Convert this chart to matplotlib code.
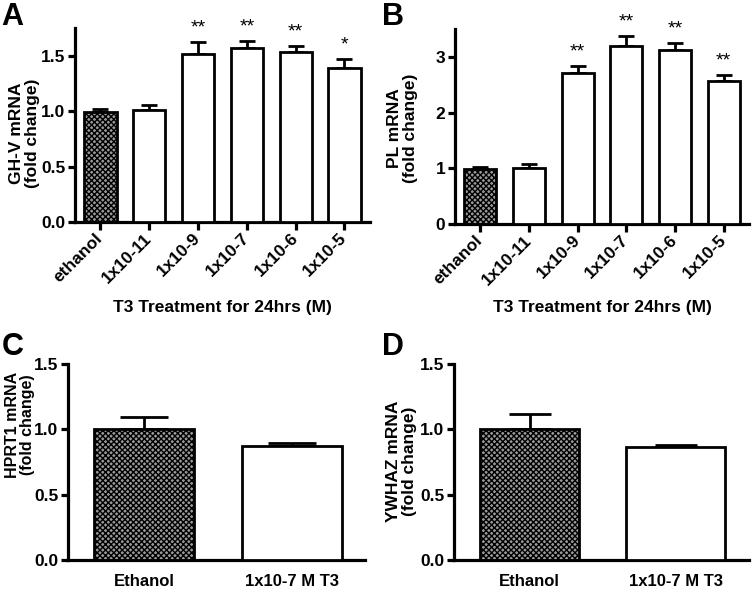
import matplotlib
matplotlib.use('Agg')
import matplotlib.pyplot as plt

plt.rcParams['font.family'] = ['Liberation Sans', 'DejaVu Sans']
plt.rcParams['font.weight'] = 'bold'
plt.rcParams['axes.labelweight'] = 'bold'
plt.rcParams['hatch.linewidth'] = 1.0

# panel A / B data
doses = ['ethanol', '1x10-11', '1x10-9', '1x10-7', '1x10-6', '1x10-5']
ghv_mean = [0.99, 1.01, 1.52, 1.575, 1.54, 1.39]
ghv_err = [0.03, 0.05, 0.11, 0.06, 0.05, 0.08]
ghv_stars = ['', '', '**', '**', '**', '*']

pl_mean = [0.99, 1.0, 2.71, 3.19, 3.12, 2.57]
pl_err = [0.03, 0.07, 0.13, 0.18, 0.13, 0.10]
pl_stars = ['', '', '**', '**', '**', '**']

# panel C / D data
groups = ['Ethanol', '1x10-7 M T3']
hprt_mean = [1.0, 0.872]
hprt_err = [0.095, 0.023]
ywhaz_mean = [1.0, 0.865]
ywhaz_err = [0.115, 0.018]

fig = plt.figure(figsize=(7.54, 5.89), dpi=100)


def style(ax):
    for s in ['top', 'right']:
        ax.spines[s].set_visible(False)
    for s in ['left', 'bottom']:
        ax.spines[s].set_linewidth(2.3)
    ax.tick_params(width=2.3, length=5, labelsize=12.5)
    ax.tick_params(axis='y', pad=2)


def bars(ax, labels, mean, err, width, cap):
    x = list(range(len(labels)))
    colors = ['white'] * len(labels)
    b = ax.bar(x, mean, width, color=colors, edgecolor='black', linewidth=2, zorder=3)
    b[0].set_hatch('xxxxxx')
    b[0].set_facecolor('#9a9a9a')
    ax.errorbar(x, mean, yerr=[[0] * len(err), err], fmt='none', ecolor='black',
                elinewidth=2, capsize=cap, capthick=2, zorder=2)
    return x


def stars(ax, x, mean, err, marks):
    for xi, m, e, s in zip(x, mean, err, marks):
        if s:
            ax.annotate(s, (xi, m + e), xytext=(0, 4), textcoords='offset points',
                        ha='center', va='bottom', fontsize=14, fontweight='normal')


def dose_ticks(ax, x):
    ax.set_xticks(x)
    ax.set_xticklabels(doses, rotation=45, ha='right', va='center', rotation_mode='anchor')
    ax.tick_params(axis='x', pad=4, length=6)


# A
axA = fig.add_axes([0.0995, 0.623, 0.391, 0.329])
x = bars(axA, doses, ghv_mean, ghv_err, 0.66, 5.5)
stars(axA, x, ghv_mean, ghv_err, ghv_stars)
axA.set_xlim(-0.52, 5.52)
axA.set_ylim(0, 1.75)
axA.set_yticks([0, 0.5, 1.0, 1.5])
axA.set_yticklabels(['0.0', '0.5', '1.0', '1.5'])
style(axA)
dose_ticks(axA, x)
axA.set_ylabel('GH-V mRNA\n(fold change)', fontsize=12.5, linespacing=1.05)
axA.yaxis.set_label_coords(-0.119, 0.46)
axA.set_xlabel('T3 Treatment for 24hrs (M)', fontsize=12.5)
axA.xaxis.set_label_coords(0.5, -0.40)

# B
axB = fig.add_axes([0.6034, 0.6197, 0.390, 0.331])
x = bars(axB, doses, pl_mean, pl_err, 0.66, 5.5)
stars(axB, x, pl_mean, pl_err, pl_stars)
axB.set_xlim(-0.52, 5.52)
axB.set_ylim(0, 3.5)
axB.set_yticks([0, 1, 2, 3])
style(axB)
dose_ticks(axB, x)
axB.set_ylabel('PL mRNA\n(fold change)', fontsize=12.5, linespacing=1.05)
axB.yaxis.set_label_coords(-0.126, 0.49)
axB.set_xlabel('T3 Treatment for 24hrs (M)', fontsize=12.5)
axB.xaxis.set_label_coords(0.5, -0.39)

# C
axC = fig.add_axes([0.0902, 0.0492, 0.394, 0.333])
x = bars(axC, groups, hprt_mean, hprt_err, 0.68, 17)
axC.set_xlim(-0.52, 1.5)
axC.set_ylim(0, 1.5)
axC.set_yticks([0, 0.5, 1.0, 1.5])
axC.set_yticklabels(['0.0', '0.5', '1.0', '1.5'])
axC.set_xticks(x)
axC.set_xticklabels(groups)
style(axC)
axC.tick_params(axis='x', length=0, pad=10, labelsize=12)
axC.set_ylabel('HPRT1 mRNA\n(fold change)', fontsize=11.5, linespacing=1.05)
axC.yaxis.set_label_coords(-0.11, 0.69)

# D
axD = fig.add_axes([0.602, 0.0492, 0.391, 0.333])
x = bars(axD, groups, ywhaz_mean, ywhaz_err, 0.68, 15)
axD.set_xlim(-0.52, 1.5)
axD.set_ylim(0, 1.5)
axD.set_yticks([0, 0.5, 1.0, 1.5])
axD.set_yticklabels(['0.0', '0.5', '1.0', '1.5'])
axD.set_xticks(x)
axD.set_xticklabels(groups)
style(axD)
axD.tick_params(axis='x', length=0, pad=10, labelsize=12)
axD.set_ylabel('YWHAZ mRNA\n(fold change)', fontsize=12.5, linespacing=1.05)
axD.yaxis.set_label_coords(-0.125, 0.505)

for lab, px, py in [('A', 0.002, 0.997), ('B', 0.506, 0.997), ('C', 0.002, 0.436), ('D', 0.506, 0.436)]:
    fig.text(px, py, lab, fontsize=22, fontweight='bold', ha='left', va='top')

fig.savefig('out.png', dpi=100)
